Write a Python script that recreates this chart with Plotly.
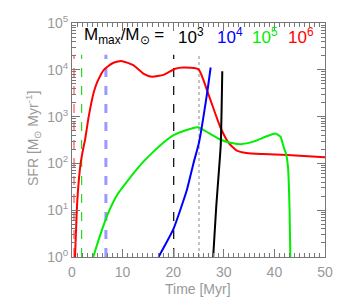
import plotly.graph_objects as go

# --- data (Time in Myr, SFR in Msun/Myr) ---
red_t = [0.6, 1.05, 1.7, 2.15, 2.6, 3.3, 4.3, 5.0, 6.3, 8.0, 9.7, 12.1, 14.1, 15.8, 18.1, 20.4, 22.0, 25.0, 27.0, 29.3, 31.0, 32.5, 34.5, 37.8, 42.5, 50.0]
red_sfr = [1, 16, 100, 190, 330, 1000, 3300, 5500, 10000, 13800, 15500, 12600, 8300, 7100, 7800, 10500, 11200, 10200, 2900, 600, 270, 190, 166, 158, 151, 135]

green_t = [4.2, 5.5, 7.4, 9.0, 10.8, 13.8, 15.8, 18.7, 20.1, 22.5, 24.9, 27.0, 29.3, 31.3, 33.3, 36.0, 38.5, 40.2, 41.2, 41.8, 42.3, 42.7, 43.0, 43.15]
green_sfr = [1, 2.8, 10, 22, 40, 100, 166, 316, 400, 510, 590, 447, 324, 275, 257, 295, 380, 437, 372, 229, 160, 80, 10, 1]

blue_t = [17.1, 18.4, 20.1, 22.7, 24.0, 25.1, 26.7, 27.4]
blue_sfr = [1, 1.8, 4.1, 27, 100, 280, 3160, 11200]

black_t = [27.9, 28.5, 29.0, 29.4, 29.7]
black_sfr = [1, 11.7, 62, 250, 9300]

# vertical marker lines: time, colour, dash, width
vline_t = [0.4, 1.9, 6.7, 20.1, 25.1]
vline_colors = ["rgba(255,80,80,0.6)", "#22dd22", "rgba(110,110,255,0.7)", "#000000", "#888888"]
vline_dash = ["dash", "dash", "dash", "dash", "dot"]
vline_width = [2, 1.2, 3, 1.2, 1]
vline_top = 2.1e4

labels = ["10<sup>3</sup>", "10<sup>4</sup>", "10<sup>5</sup>", "10<sup>6</sup>"]
label_colors = ["#000000", "#0000ff", "#00ee00", "#ff0000"]
label_x = [176, 215, 250, 286]

x_ticks = [0, 10, 20, 30, 40, 50]
y_ticks = [1, 10, 100, 1000, 10000, 100000]
y_ticktext = ["10<sup>0</sup>", "10<sup>1</sup>", "10<sup>2</sup>", "10<sup>3</sup>", "10<sup>4</sup>", "10<sup>5</sup>"]

fig = go.Figure()

for t, c, d, w in zip(vline_t, vline_colors, vline_dash, vline_width):
    fig.add_trace(go.Scatter(x=[t, t], y=[1, vline_top], mode="lines",
                             line=dict(color=c, dash=d, width=w), showlegend=False))

for tt, ss, col in [(red_t, red_sfr, "#ff0000"), (green_t, green_sfr, "#00ee00"),
                    (blue_t, blue_sfr, "#0000ff"), (black_t, black_sfr, "#000000")]:
    fig.add_trace(go.Scatter(x=tt, y=ss, mode="lines",
                             line=dict(color=col, width=2, shape="spline", smoothing=0.5),
                             showlegend=False))

# page has an 8px body margin; compensate so the plot area sits where the reference has it
OFF = 8
W, H = 346 - OFF, 303 - OFF
L, R, T, B = 72 - OFF, 21, 23 - OFF, 46
pw, ph = W - L - R, H - T - B

def px_x(px):
    return (px - OFF - L) / pw

def px_y(py):
    return (H - B - (py - OFF)) / ph

axis_col = "#777777"
tick_font = dict(family="Liberation Sans, Arial, sans-serif", size=14, color="#999999")

fig.update_layout(
    width=W, height=H,
    margin=dict(l=L, r=R, t=T, b=B, autoexpand=False),
    paper_bgcolor="white", plot_bgcolor="white",
    xaxis=dict(range=[0, 50], tickvals=x_ticks, ticks="inside", ticklen=8, tickcolor=axis_col,
               showline=True, linecolor=axis_col, mirror="allticks", showgrid=False, zeroline=False,
               tickfont=tick_font, automargin=False, ticklabelstandoff=2,
               minor=dict(ticks="inside", dtick=1, ticklen=4, tickcolor=axis_col, showgrid=False)),
    yaxis=dict(type="log", range=[0, 5], tickvals=y_ticks, ticktext=y_ticktext,
               ticks="inside", ticklen=8, tickcolor=axis_col,
               showline=True, linecolor=axis_col, mirror="allticks", showgrid=False, zeroline=False,
               tickfont=tick_font, automargin=False,
               minor=dict(ticks="inside", dtick="D1", ticklen=4, tickcolor=axis_col, showgrid=False)),
)

# axis titles
fig.add_annotation(x=px_x(198), y=px_y(289), xref="paper", yref="paper", xanchor="center", yanchor="middle",
                   text="Time [Myr]", showarrow=False, font=tick_font)
fig.add_annotation(x=px_x(33), y=px_y(139), xref="paper", yref="paper", xanchor="center", yanchor="middle",
                   text="SFR [M<sub>⊙</sub> Myr<sup>-1</sup>]", textangle=-90, showarrow=False, font=tick_font)

title_font = dict(family="Liberation Sans, Arial, sans-serif", size=17, color="#000000")
fig.add_annotation(x=px_x(82), y=px_y(36), xref="paper", yref="paper", xanchor="left", yanchor="middle",
                   text="M<sub>max</sub>/M<sub>⊙</sub> =", showarrow=False, font=title_font)
for txt, col, xp in zip(labels, label_colors, label_x):
    fig.add_annotation(x=px_x(xp), y=px_y(36), xref="paper", yref="paper", xanchor="left", yanchor="middle",
                       text=txt, showarrow=False, font=dict(family=title_font["family"], size=17, color=col))

fig.write_html("out.html")
